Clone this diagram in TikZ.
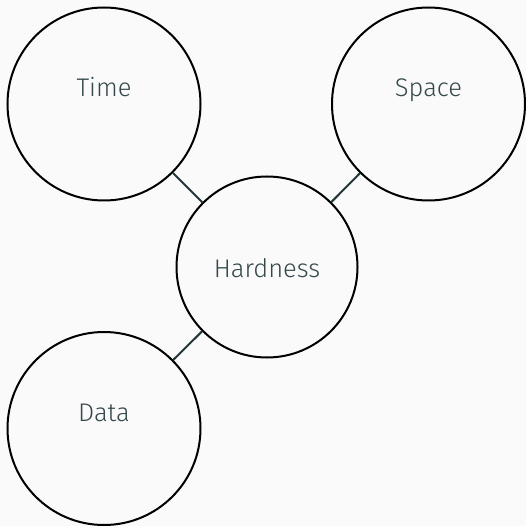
\documentclass[tikz,border=0pt]{standalone}
\usepackage{fontspec}
\setmainfont{Fira Sans}[UprightFont={* Light}]
\definecolor{bgcol}{HTML}{FAFAFA}
\definecolor{darkteal}{HTML}{23373B}
\definecolor{labelcol}{HTML}{35494D}
\begin{document}
\begin{tikzpicture}[x=1pt,y=-1pt,
  topic/.style={circle,draw=black,line width=2pt,inner sep=0pt,minimum size=193pt},
  hub/.style={circle,draw=black,line width=2pt,inner sep=0pt,minimum size=181pt},
  caption/.style={text=labelcol,font=\fontsize{25.5}{30}\selectfont,inner sep=0pt,anchor=base},
  link/.style={draw=darkteal,line width=2pt}]
  \fill[bgcol] (0,0) rectangle (526,526);
  \useasboundingbox (0,0) rectangle (526,526);
  % circles
  \node[topic] (time)  at (104,104) {};
  \node[topic] (space) at (428.5,104) {};
  \node[topic] (data)  at (104,428.5) {};
  \node[hub]   (hard)  at (267,267) {};
  % captions, set on a common baseline above each centre
  \node[caption] (timet)  at ([yshift=7pt]time.center)  {Time};
  \node[caption] (spacet) at ([yshift=7pt]space.center) {Space};
  \node[caption] (datat)  at ([yshift=7.5pt]data.center)  {Data};
  \node[caption] (hardt)  at ([yshift=-10pt]hard.center) {Hardness};
  % connectors
  \draw[link] (time) -- (hard);
  \draw[link] (space) -- (hard);
  \draw[link] (data) -- (hard);
\end{tikzpicture}
\end{document}
